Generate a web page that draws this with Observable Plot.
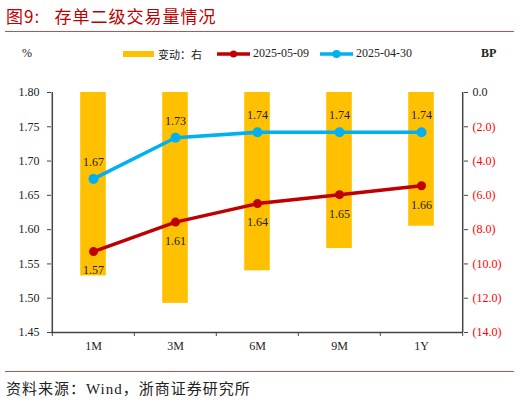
<!DOCTYPE html>
<html>
<head>
<meta charset="utf-8">
<script src="https://cdn.jsdelivr.net/npm/d3@7"></script>
<script src="https://cdn.jsdelivr.net/npm/@observablehq/plot@0.6"></script>
<style>
  body { margin: 0; background: #fff; font-family: "Liberation Serif", "Noto Sans CJK SC", serif; }
  #wrap { position: relative; width: 520px; height: 402px; overflow: hidden; }
  .abs { position: absolute; white-space: nowrap; }
  .title { left: 6px; top: 3px; font-size: 17px; color: #c00000; font-family: "Noto Sans CJK SC", sans-serif; letter-spacing: 1px; }
  .hr { left: 5px; width: 509px; height: 0; border-top: 1px solid #c0504d; }
  .lg { font-size: 12px; color: #222; top: 46px; }
  .src { left: 6px; top: 377px; font-size: 15px; color: #222; letter-spacing: 1px; font-family: "Liberation Serif", "Noto Sans CJK SC", serif; }
</style>
</head>
<body>
<div id="wrap">
  <div id="plot"></div>
  <div class="abs title">图9:&nbsp;&nbsp;&nbsp;存单二级交易量情况</div>
  <div class="abs hr" style="top:31px"></div>
  <div class="abs lg" style="left:22px;">%</div>
  <div class="abs lg" style="left:481px;font-weight:bold;">BP</div>
  <div class="abs" style="left:123px;top:51px;width:31px;height:6px;background:#ffc000"></div>
  <div class="abs lg" style="left:158px;font-family:'Noto Sans CJK SC';font-size:11px;top:46px">变动：右</div>
  <svg class="abs" style="left:216px;top:47px" width="36" height="14"><line x1="1" y1="7" x2="34" y2="7" stroke="#c00000" stroke-width="3.5"/><circle cx="17.5" cy="7" r="3.5" fill="#c00000"/></svg>
  <div class="abs lg" style="left:253px;">2025-05-09</div>
  <svg class="abs" style="left:319px;top:47px" width="36" height="14"><line x1="1" y1="7" x2="34" y2="7" stroke="#00b0f0" stroke-width="3.5"/><circle cx="17.5" cy="7" r="4" fill="#00b0f0"/></svg>
  <div class="abs lg" style="left:356px;">2025-04-30</div>
  <div class="abs hr" style="top:371px"></div>
  <div class="abs src">资料来源：Wind，浙商证券研究所</div>
</div>
<script>
const terms = ["1M", "3M", "6M", "9M", "1Y"];
const rate0509 = [1.568, 1.611, 1.638, 1.651, 1.664];
const rate0430 = [1.674, 1.734, 1.742, 1.742, 1.742];
const changeBP = [-10.7, -12.3, -10.4, -9.1, -7.8];
const leftTicks = [1.45, 1.50, 1.55, 1.60, 1.65, 1.70, 1.75, 1.80];
const rightTicks = [0, -2, -4, -6, -8, -10, -12, -14];

// right axis (BP, 0 .. -14) mapped onto the left scale (1.80 .. 1.45)
const toLeft = bp => 1.80 + bp * 0.35 / 14;

const data = terms.map((t, i) => ({
  term: t, r1: rate0509[i], r0: rate0430[i], chg: changeBP[i]
}));

const W = 520, mL = 51, mR = 57;
const bw = (W - mL - mR) / terms.length;
const font = "Liberation Serif";

const plot = Plot.plot({
  width: W,
  height: 402,
  marginTop: 92,
  marginBottom: 70,
  marginLeft: mL,
  marginRight: mR,
  style: { fontFamily: font, fontSize: "12px", color: "#222", background: "transparent" },
  x: { type: "band", domain: terms, padding: 0, label: null },
  y: { domain: [1.45, 1.80], label: null },
  marks: [
    Plot.barY(data, { x: "term", y1: () => 1.80, y2: d => toLeft(d.chg), fill: "#ffc000", insetLeft: (bw - 26) / 2, insetRight: (bw - 26) / 2 }),
    Plot.line(data, { x: "term", y: "r0", stroke: "#00b0f0", strokeWidth: 3.5 }),
    Plot.dot(data, { x: "term", y: "r0", fill: "#00b0f0", r: 5 }),
    Plot.line(data, { x: "term", y: "r1", stroke: "#c00000", strokeWidth: 3.5 }),
    Plot.dot(data, { x: "term", y: "r1", fill: "#c00000", r: 4.5 }),
    Plot.text(data, { x: "term", y: "r0", text: d => d.r0.toFixed(2), dy: -17, fill: "#222", fontSize: 12 }),
    Plot.text(data, { x: "term", y: "r1", text: d => d.r1.toFixed(2), dy: 19, fill: "#222", fontSize: 12 }),
    // left axis
    Plot.axisY(leftTicks, { anchor: "left", tickFormat: d => d.toFixed(2), tickSize: 4, tickPadding: 8, stroke: "#444", fill: "#222", label: null }),
    // right axis
    Plot.axisY([toLeft(0)], { anchor: "right", tickFormat: () => "0.0", tickSize: 4, tickPadding: 5, stroke: "#444", fill: "#222", label: null }),
    Plot.axisY(rightTicks.slice(1).map(toLeft), { anchor: "right", tickFormat: d => "(" + Math.abs(Math.round((d - 1.80) * 14 / 0.35)).toFixed(1) + ")", tickSize: 4, tickPadding: 5, stroke: "#444", fill: "#ff0000", label: null }),
    // x axis
    Plot.axisX({ tickSize: 0, tickPadding: 9, fill: "#222", label: null }),
    Plot.ruleY([1.45], { stroke: "#444", strokeWidth: 1.5 }),
    Plot.ruleX(terms, { x: d => d, y1: () => 1.45, y2: () => 1.45, insetBottom: -4, dx: -bw / 2, stroke: "#444" }),
    Plot.ruleX([terms[terms.length - 1]], { x: d => d, y1: () => 1.45, y2: () => 1.45, insetBottom: -4, dx: bw / 2, stroke: "#444" }),
    Plot.ruleX([terms[0]], { x: d => d, y1: () => 1.45, y2: () => 1.80, dx: -bw / 2, stroke: "#444", strokeWidth: 1.5 }),
    Plot.ruleX([terms[terms.length - 1]], { x: d => d, y1: () => 1.45, y2: () => 1.80, dx: bw / 2, stroke: "#444", strokeWidth: 1.5 })
  ]
});

document.getElementById("plot").appendChild(plot);
</script>
</body>
</html>
